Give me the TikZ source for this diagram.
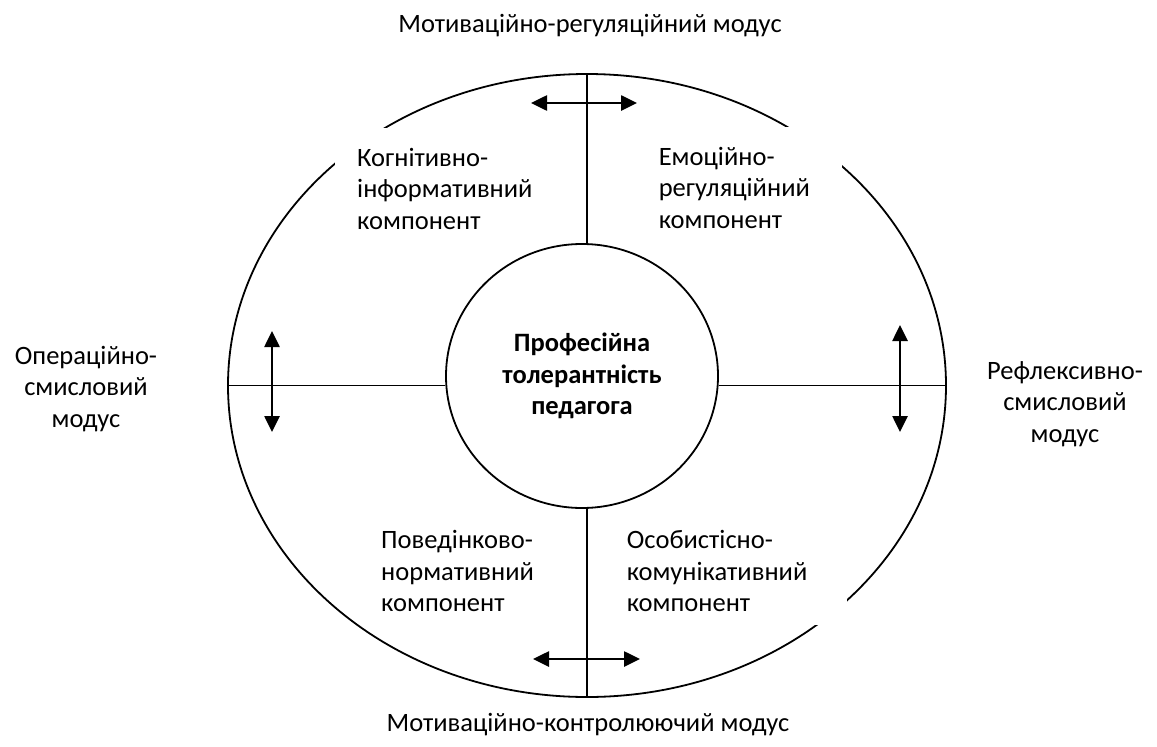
\documentclass[tikz,border=0pt]{standalone}
\usepackage{fontspec}
\setmainfont{Carlito}
\usetikzlibrary{arrows.meta,shapes.geometric,calc}
\begin{document}
\begin{tikzpicture}[x=1pt,y=-1pt,
  every node/.style={font=\fontsize{26.5}{31.5}\selectfont},
  thinline/.style={line width=1.4pt},
  ring/.style={draw, ellipse, line width=1.8pt, inner sep=0pt},
  arr/.style={line width=2.6pt, {Triangle[length=16pt,width=15pt]}-{Triangle[length=16pt,width=15pt]}},
  comp/.style={align=left, text width=#1, inner xsep=22pt, inner ysep=20pt},
  compb/.style={align=left, text width=#1, inner xsep=22pt, inner ysep=13pt},
  modus/.style={align=center, inner sep=0pt}
]
\useasboundingbox (0,0) rectangle (1157,747);
\fill[white] (0,0) rectangle (1157,747);

% outer ellipse
\node[ring, minimum width=718pt, minimum height=623pt] (outer) at (587,385.5) {};

% component labels (white boxes cut the outer ellipse)
\node[comp=178pt, fill=white, anchor=north west] (kog) at (335,128)
  {\hyphenpenalty=10000 Когнітивно-\\інформативний\\компонент};
\node[comp=161pt, fill=white, anchor=north east] (emo) at (842,127)
  {\hyphenpenalty=10000 Емоційно-\\регуляційний\\компонент};
\node[compb=198pt, fill=white, anchor=south east] (osob) at (847,625)
  {\hyphenpenalty=10000 Особистісно-\\комунікативний\\компонент};
\node[compb=180pt, anchor=south west] (pov) at (359,625)
  {\hyphenpenalty=10000 Поведінково-\\нормативний\\компонент};

% inner circle with title
\node[ring, fill=white, minimum width=272pt, minimum height=264pt, align=center,
      font=\fontsize{26.5}{31.5}\selectfont\bfseries] (inner) at (582,376)
      {Професійна\\толерантність\\педагога};

% dividing lines
\draw[thinline] (outer.north) -- (outer.north |- inner.north);
\draw[thinline] (outer.south) -- (outer.south |- inner.south);
\draw[thinline] (outer.west) -- (outer.west -| inner.west);
\draw[thinline] (outer.east) -- (outer.east -| inner.east);

% double arrows
\coordinate (t1) at (531,103);  \coordinate (t2) at (637,103);
\coordinate (b1) at (533,659);  \coordinate (b2) at (640,659);
\coordinate (l1) at (272,331);  \coordinate (l2) at (272,432);
\coordinate (r1) at (900,325);  \coordinate (r2) at (900,432);
\draw[arr] (t1) -- (t2);
\draw[arr] (b1) -- (b2);
\draw[arr] (l1) -- (l2);
\draw[arr] (r1) -- (r2);

% modus labels
\node[modus, anchor=base] (top) at (590,32) {Мотиваційно-регуляційний модус};
\node[modus, anchor=base] (bot) at (588,731) {Мотиваційно-контролюючий модус};
\node[modus] (left) at (86,389) {Операційно-\\смисловий\\модус};
\node[modus] (right) at (1065,404) {Рефлексивно-\\смисловий\\модус};
\end{tikzpicture}
\end{document}
